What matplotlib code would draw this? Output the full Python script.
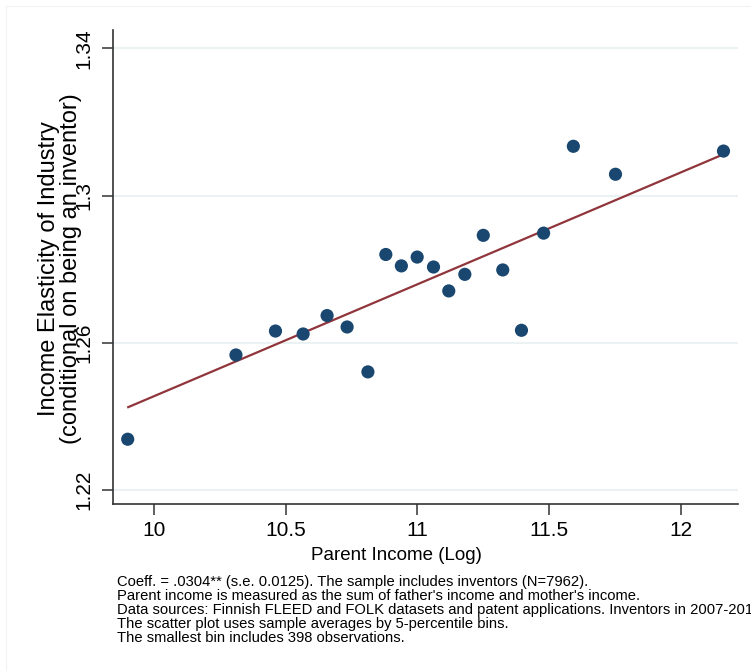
import matplotlib
matplotlib.use('Agg')
import matplotlib.pyplot as plt
import numpy as np

plt.rcParams['font.family'] = ['Liberation Sans', 'DejaVu Sans']

# bin averages (5-percentile bins)
parent_income = [9.900, 10.311, 10.461, 10.566, 10.657, 10.733, 10.812, 10.880,
                 10.939, 10.999, 11.061, 11.119, 11.180, 11.250, 11.324, 11.395,
                 11.479, 11.592, 11.752, 12.162]
elasticity = [1.2338, 1.2567, 1.2632, 1.2624, 1.2674, 1.2643, 1.2521, 1.2840,
              1.2809, 1.2833, 1.2806, 1.2741, 1.2786, 1.2892, 1.2798, 1.2634,
              1.2898, 1.3134, 1.3058, 1.3121]

# linear fit estimated on the full sample
fit_slope = 0.0304
fit_intercept = 0.9415
fit_x_range = [9.902, 12.153]

x_ticks = [10, 10.5, 11, 11.5, 12]
x_tick_labels = ['10', '10.5', '11', '11.5', '12']
y_ticks = [1.22, 1.26, 1.30, 1.34]
y_tick_labels = ['1.22', '1.26', '1.3', '1.34']

notes = [
    "Coeff. = .0304** (s.e. 0.0125). The sample includes inventors (N=7962).",
    "Parent income is measured as the sum of father's income and mother's income.",
    "Data sources: Finnish FLEED and FOLK datasets and patent applications. Inventors in 2007-2015.",
    "The scatter plot uses sample averages by 5-percentile bins.",
    "The smallest bin includes 398 observations.",
]

W, H = 751, 671
fig = plt.figure(figsize=(W / 100, H / 100), dpi=100)
fig.patch.set_facecolor('white')

ax = fig.add_axes([112.7 / W, 1 - 504 / H, (737.7 - 112.7) / W, (504 - 30) / H])

ax.scatter(parent_income, elasticity, s=90, color='#1a476f', zorder=3,
           edgecolors='none')

xf = np.array(fit_x_range)
ax.plot(xf, fit_intercept + fit_slope * xf, color='#90353b', lw=1.6, zorder=2)

ax.set_xlim(9.843, 12.216)
ax.set_ylim(1.2162, 1.345)
ax.set_xticks(x_ticks)
ax.set_xticklabels(x_tick_labels)
ax.set_yticks(y_ticks)
ax.set_yticklabels(y_tick_labels, rotation=90, va='center')

ax.grid(axis='y', color='#eaf2f3', lw=1.5)
ax.set_axisbelow(True)
for s in ['top', 'right']:
    ax.spines[s].set_visible(False)
for s in ['left', 'bottom']:
    ax.spines[s].set_color('#333333')
    ax.spines[s].set_linewidth(1.2)
ax.tick_params(axis='both', length=8, width=1.1, color='#333333', labelsize=15)
ax.tick_params(axis='x', pad=4)
ax.tick_params(axis='y', pad=6)

fig.text(396 / W, 1 - 555 / H, 'Parent Income (Log)', fontsize=13.5,
         ha='center', va='center')
fig.text(60 / W, 1 - 269 / H,
         'Income Elasticity of Industry\n(conditional on being an inventor)',
         rotation=90, ha='center', va='center', fontsize=17, linespacing=1.0)

for i, line in enumerate(notes):
    fig.text(117 / W, 1 - (582 + 14 * i) / H, line, fontsize=10.6,
             ha='left', va='center')

# faint outer border
fig.add_artist(plt.Rectangle((6 / W, 0), 1, 1 - 6 / H, transform=fig.transFigure,
                             fill=False, ec='#f2f2f2', lw=0.8))

fig.savefig('out.png', dpi=100)
